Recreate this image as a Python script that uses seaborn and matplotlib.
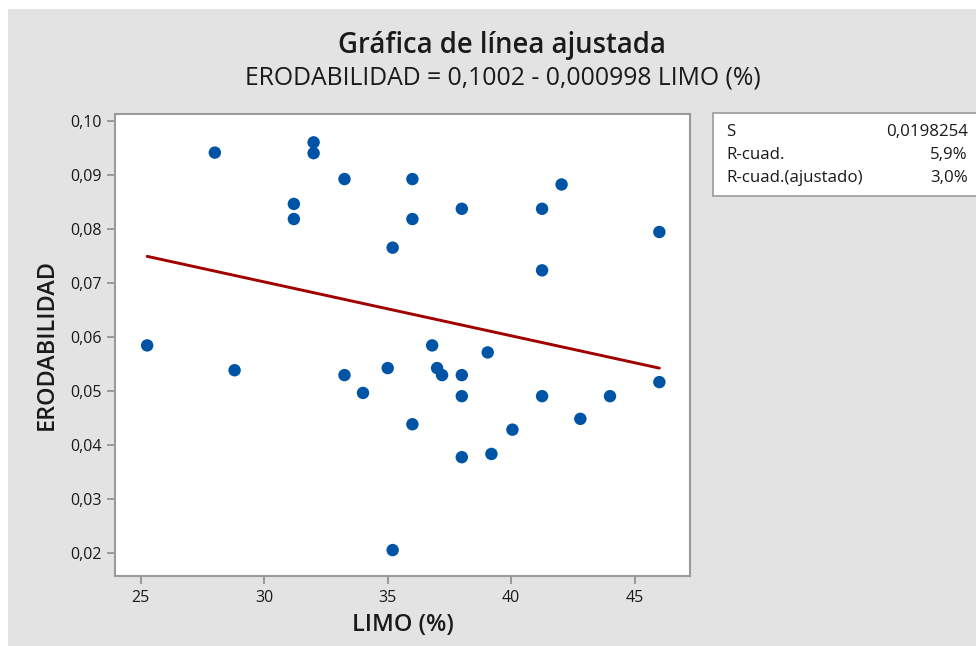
import matplotlib
matplotlib.use("Agg")
import matplotlib.pyplot as plt
import matplotlib.ticker as mticker
from matplotlib.patches import Rectangle
import numpy as np
import pandas as pd
import seaborn as sns

# LIMO (%) vs ERODABILIDAD
limo = [
    25.26, 28.0, 28.8, 31.2, 31.2, 32.0, 32.0, 33.25, 33.25, 34.0,
    35.0, 35.2, 35.2, 36.0, 36.0, 36.0, 36.8, 37.0, 37.2, 38.0,
    38.0, 38.0, 38.0, 39.05, 39.2, 40.05, 41.25, 41.25, 41.25, 42.04,
    42.8, 44.0, 46.0, 46.0,
]
erodabilidad = [
    0.0585, 0.0942, 0.0539, 0.0847, 0.0819, 0.0961, 0.0941, 0.0893, 0.0530, 0.0497,
    0.0543, 0.0766, 0.0206, 0.0893, 0.0819, 0.0439, 0.0585, 0.0543, 0.0530, 0.0838,
    0.0530, 0.0491, 0.0378, 0.0572, 0.0384, 0.0429, 0.0838, 0.0724, 0.0491, 0.0883,
    0.0449, 0.0491, 0.0795, 0.0517,
]

intercept = 0.1002
slope = -0.000998

stat_labels = ["S", "R-cuad.", "R-cuad.(ajustado)"]
stat_values = ["0,0198254", "5,9%", "3,0%"]

x_ticks = [25, 30, 35, 40, 45]
y_ticks = [0.02, 0.03, 0.04, 0.05, 0.06, 0.07, 0.08, 0.09, 0.10]

BG = "#e3e3e3"
FONT = ["Open Sans", "DejaVu Sans"]


def comma_fmt(v, _pos):
    return f"{v:.2f}".replace(".", ",")


def main() -> None:
    df = pd.DataFrame({"LIMO": limo, "ERODABILIDAD": erodabilidad})
    fit = pd.DataFrame({"LIMO": np.linspace(min(limo), max(limo), 100)})
    fit["ERODABILIDAD"] = intercept + slope * fit["LIMO"]

    sns.set_theme(style="white")
    plt.rcParams["font.family"] = FONT

    fig = plt.figure(figsize=(9.76, 6.46), dpi=100, facecolor="white")
    fig.patches.append(Rectangle((8 / 976, 0), 1, 1 - 9 / 646, transform=fig.transFigure,
                                 facecolor=BG, edgecolor="none", zorder=-10))
    ax = fig.add_axes([115.3 / 976, 70 / 646, (690 - 115.3) / 976, (576 - 114) / 646])
    ax.set_facecolor("white")

    sns.lineplot(data=fit, x="LIMO", y="ERODABILIDAD", color="#a00000",
                 linewidth=2.1, ax=ax, zorder=2)
    sns.scatterplot(data=df, x="LIMO", y="ERODABILIDAD", color="#0054a6",
                    s=80, edgecolor="none", ax=ax, zorder=3)

    ax.set_xlim(23.97, 47.24)
    ax.set_ylim(0.0158, 0.10135)
    ax.set_xticks(x_ticks)
    ax.set_yticks(y_ticks)
    ax.yaxis.set_major_formatter(mticker.FuncFormatter(comma_fmt))
    ax.tick_params(axis="both", which="major", direction="out", length=6, width=1.2,
                   color="#8c8c8c", labelsize=11.5, labelcolor="#1a1a1a", pad=4,
                   bottom=True, left=True)
    for sp in ax.spines.values():
        sp.set_color("#9a9a9a")
        sp.set_linewidth(1.5)

    ax.set_xlabel("LIMO (%)", fontsize=17, fontweight="semibold", color="#1a1a1a", labelpad=5)
    ax.set_ylabel("ERODABILIDAD", fontsize=16.8, fontweight="semibold", color="#1a1a1a", labelpad=8)

    fig.text(502 / 976, 1 - 45 / 646, "Gráfica de línea ajustada", ha="center", va="center",
             fontsize=19.8, fontweight="semibold", color="#1a1a1a")
    fig.text(503 / 976, 1 - 78 / 646, "ERODABILIDAD = 0,1002 - 0,000998 LIMO (%)", ha="center",
             va="center", fontsize=17.8, color="#1a1a1a")

    # summary box
    box = Rectangle((713 / 976, 1 - 196 / 646), (980 - 713) / 976, (196 - 113) / 646,
                    transform=fig.transFigure, facecolor="white", edgecolor="#9a9a9a",
                    linewidth=1.2, zorder=1)
    fig.patches.append(box)
    for i, (lab, val) in enumerate(zip(stat_labels, stat_values)):
        yy = 1 - (131.7 + 23.3 * i) / 646
        fig.text(726 / 976, yy, lab, ha="left", va="center", fontsize=12.2, color="#1a1a1a")
        fig.text(968 / 976, yy, val, ha="right", va="center", fontsize=12.2, color="#1a1a1a")

    fig.savefig("out.png", dpi=100, facecolor=fig.get_facecolor())
    plt.close(fig)


if __name__ == "__main__":
    main()
